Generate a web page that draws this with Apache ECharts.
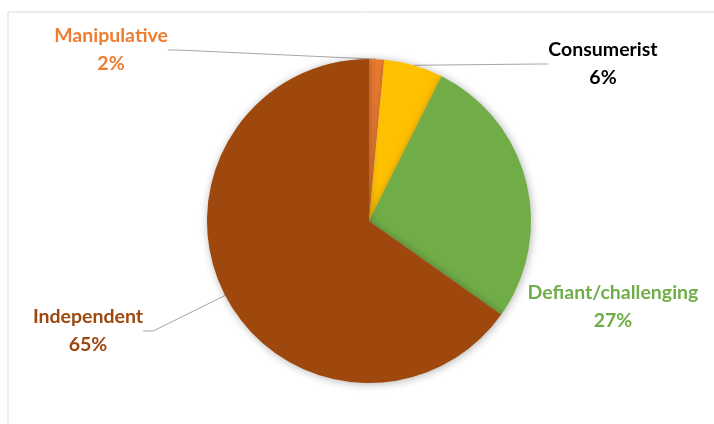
<!DOCTYPE html>
<html><head><meta charset="utf-8">
<script src="https://cdn.jsdelivr.net/npm/echarts@6/dist/echarts.min.js"></script>
<style>html,body{margin:0;padding:0;background:#fff}#c{width:714px;height:424px}</style>
</head><body><div id="c"></div>
<script>
const categories = ['Manipulative', 'Consumerist', 'Defiant/challenging', 'Independent'];
const values = [1.5, 5.9, 27.4, 65.2];
const sliceColors = ['#ED7D31', '#FFC000', '#70AD47', '#9E480E'];
const labelColors = ['#ED7D31', '#000000', '#70AD47', '#9E480E'];
const labelPos = [[111, 50], [603, 64], [613, 307], [88, 331]];
const showLine = [true, true, false, true];

const chart = echarts.init(document.getElementById('c'), null, {renderer: 'canvas'});
chart.setOption({
  animation: false,
  backgroundColor: '#fff',
  graphic: [{type: 'rect', shape: {x: 8, y: 12, width: 720, height: 430}, style: {fill: 'none', stroke: '#D9D9D9', lineWidth: 1}}],
  series: [{
    type: 'pie',
    center: [369, 221],
    radius: 162,
    startAngle: 90,
    clockwise: true,
    percentPrecision: 0,
    data: categories.map((n, i) => ({
      name: n, value: values[i],
      itemStyle: {color: sliceColors[i]},
      label: {color: labelColors[i]},
      labelLine: {show: showLine[i]}
    })),
    itemStyle: {shadowBlur: 8, shadowColor: 'rgba(0,0,0,0.3)', shadowOffsetX: 1, shadowOffsetY: 1},
    label: {
      show: true, position: 'outside', overflow: 'none',
      formatter: '{b}\n{d}%',
      fontFamily: 'Lato', fontWeight: 'bold', fontSize: 19.5, lineHeight: 28, align: 'center'
    },
    labelLine: {show: true, length: 10, length2: 10, lineStyle: {color: '#A6A6A6', width: 1}},
    labelLayout: function (p) {
      const pos = labelPos[p.dataIndex];
      return {x: pos[0], y: pos[1], align: 'center', verticalAlign: 'middle'};
    }
  }]
});
</script></body></html>
